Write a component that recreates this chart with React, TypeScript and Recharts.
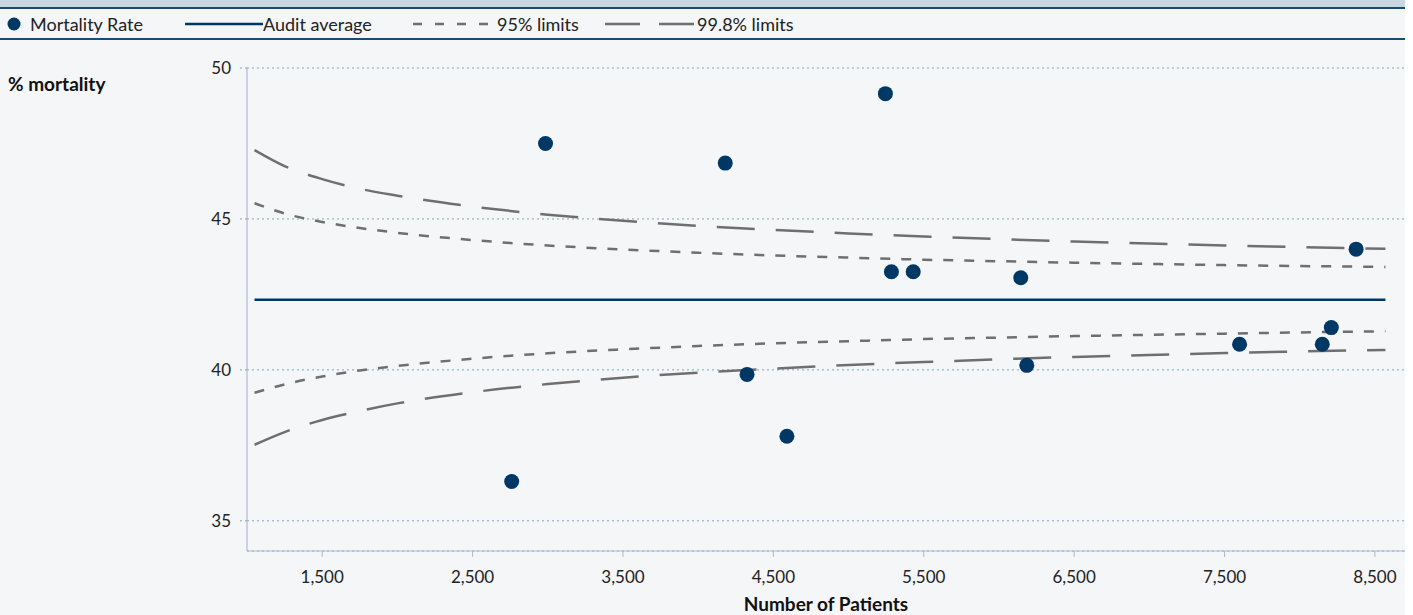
import React from 'react';
import { ComposedChart, Line, Scatter, XAxis, YAxis, CartesianGrid } from 'recharts';

// hospital points: patients (x) vs % mortality (y)
const patients = [2760, 2985, 4180, 4325, 4590, 5245, 5285, 5430, 6145, 6185, 7600, 8150, 8210, 8375];
const mortality = [36.3, 47.5, 46.85, 39.85, 37.8, 49.15, 43.25, 43.25, 43.05, 40.15, 40.85, 40.85, 41.4, 44.0];

// funnel limits
const limitX = [1050, 1250, 1500, 1750, 2000, 2500, 3000, 3500, 4000, 4500, 5000, 5500, 6000, 6500, 7000, 7500, 8000, 8570];
const upper998 = [47.28, 46.75, 46.32, 46.0, 45.77, 45.41, 45.14, 44.94, 44.77, 44.64, 44.52, 44.42, 44.33, 44.25, 44.19, 44.12, 44.07, 44.01];
const upper95 = [45.52, 45.18, 44.9, 44.7, 44.54, 44.3, 44.12, 43.99, 43.88, 43.79, 43.72, 43.65, 43.6, 43.55, 43.51, 43.47, 43.44, 43.41];
const lower95 = [39.24, 39.52, 39.78, 39.98, 40.13, 40.37, 40.55, 40.68, 40.79, 40.88, 40.95, 41.02, 41.07, 41.12, 41.16, 41.2, 41.24, 41.28];
const lower998 = [37.52, 37.94, 38.34, 38.64, 38.89, 39.26, 39.53, 39.74, 39.91, 40.04, 40.16, 40.26, 40.35, 40.43, 40.49, 40.56, 40.61, 40.66];
const auditAverage = 42.32;

const xTicks = [1500, 2500, 3500, 4500, 5500, 6500, 7500, 8500];
const yTicks = [35, 40, 45, 50];

const NAVY = '#003865';
const GREY = '#6f6f6f';

const points = patients.map((x, i) => ({ x, y: mortality[i] }));
const limits = limitX.map((x, i) => ({
  x,
  u998: upper998[i],
  u95: upper95[i],
  l95: lower95[i],
  l998: lower998[i],
}));
const audit = [
  { x: limitX[0], avg: auditAverage },
  { x: limitX[limitX.length - 1], avg: auditAverage },
];

const Dot = (props: any) => <circle cx={props.cx} cy={props.cy} r={7.5} fill={NAVY} />;

const LegendItem = ({ left, children }: any) => (
  <div style={{ position: 'absolute', left, top: 0, height: 29, display: 'flex', alignItems: 'center' }}>{children}</div>
);

const txt = { fontSize: 18, color: '#222', whiteSpace: 'nowrap' as const };

export default function App() {
  return (
    <div style={{ position: 'absolute', left: 0, top: 0, width: 1405, height: 615, background: '#f5f6f8', fontFamily: 'Lato, sans-serif', overflow: 'hidden' }}>
      <div style={{ position: 'absolute', left: 0, top: 0, width: 1405, height: 7, background: '#c9d7e1' }} />
      <div style={{ position: 'absolute', left: 0, top: 7, width: 1405, height: 2, background: '#1b4a74' }} />
      <div style={{ position: 'absolute', left: 0, top: 9, width: 1405, height: 29 }}>
        <LegendItem left={7}>
          <svg width={14} height={14} style={{ marginRight: 9 }}><circle cx={7} cy={7} r={6.5} fill={NAVY} /></svg>
          <span style={txt}>Mortality Rate</span>
        </LegendItem>
        <LegendItem left={185}>
          <svg width={78} height={6}><line x1={0} y1={3} x2={78} y2={3} stroke={NAVY} strokeWidth={2.5} /></svg>
          <span style={txt}>Audit average</span>
        </LegendItem>
        <LegendItem left={413}>
          <svg width={78} height={6} style={{ marginRight: 6 }}><line x1={0} y1={3} x2={78} y2={3} stroke={GREY} strokeWidth={2.5} strokeDasharray="9 13" /></svg>
          <span style={txt}>95% limits</span>
        </LegendItem>
        <LegendItem left={605}>
          <svg width={90} height={6} style={{ marginRight: 2 }}><line x1={0} y1={3} x2={90} y2={3} stroke={GREY} strokeWidth={2.5} strokeDasharray="35 19" /></svg>
          <span style={txt}>99.8% limits</span>
        </LegendItem>
      </div>
      <div style={{ position: 'absolute', left: 0, top: 38, width: 1405, height: 2, background: '#1b4a74' }} />
      <div style={{ position: 'absolute', left: 8, top: 72, fontSize: 19, fontWeight: 700, color: '#111' }}>% mortality</div>
      <div style={{ position: 'absolute', left: 0, top: 0 }}>
        <ComposedChart width={1405} height={615} margin={{ top: 68, right: 0, bottom: 0, left: 0 }}>
          <CartesianGrid vertical={false} stroke="#86a2bd" strokeDasharray="2 3" />
          <XAxis
            type="number"
            dataKey="x"
            domain={[1000, 8700]}
            ticks={xTicks}
            allowDataOverflow
            height={64}
            tickSize={6}
            tickMargin={14}
            tickFormatter={(v: number) => v.toLocaleString('en-US')}
            tick={{ fill: '#222', fontSize: 17 }}
            stroke="#a7bdd0"
            label={{ value: 'Number of Patients', position: 'insideBottom', offset: 4, fill: '#111', fontSize: 19, fontWeight: 700 }}
          />
          <YAxis
            type="number"
            domain={[34, 50]}
            ticks={yTicks}
            allowDataOverflow
            width={247}
            tickSize={7}
            tickMargin={9}
            tick={{ fill: '#222', fontSize: 17 }}
            stroke="#a4a9d4"
            tickLine={{ stroke: '#86a2bd', strokeDasharray: '2 3' }}
          />
          <Line data={limits} dataKey="u998" type="monotone" stroke={GREY} strokeWidth={2.5} strokeDasharray="38 21" dot={false} activeDot={false} isAnimationActive={false} />
          <Line data={limits} dataKey="u95" type="monotone" stroke={GREY} strokeWidth={2.5} strokeDasharray="10 11" dot={false} activeDot={false} isAnimationActive={false} />
          <Line data={audit} dataKey="avg" type="linear" stroke={NAVY} strokeWidth={2.5} dot={false} activeDot={false} isAnimationActive={false} />
          <Line data={limits} dataKey="l95" type="monotone" stroke={GREY} strokeWidth={2.5} strokeDasharray="10 11" dot={false} activeDot={false} isAnimationActive={false} />
          <Line data={limits} dataKey="l998" type="monotone" stroke={GREY} strokeWidth={2.5} strokeDasharray="38 21" dot={false} activeDot={false} isAnimationActive={false} />
          <Scatter data={points} dataKey="y" shape={<Dot />} isAnimationActive={false} />
        </ComposedChart>
      </div>
    </div>
  );
}
